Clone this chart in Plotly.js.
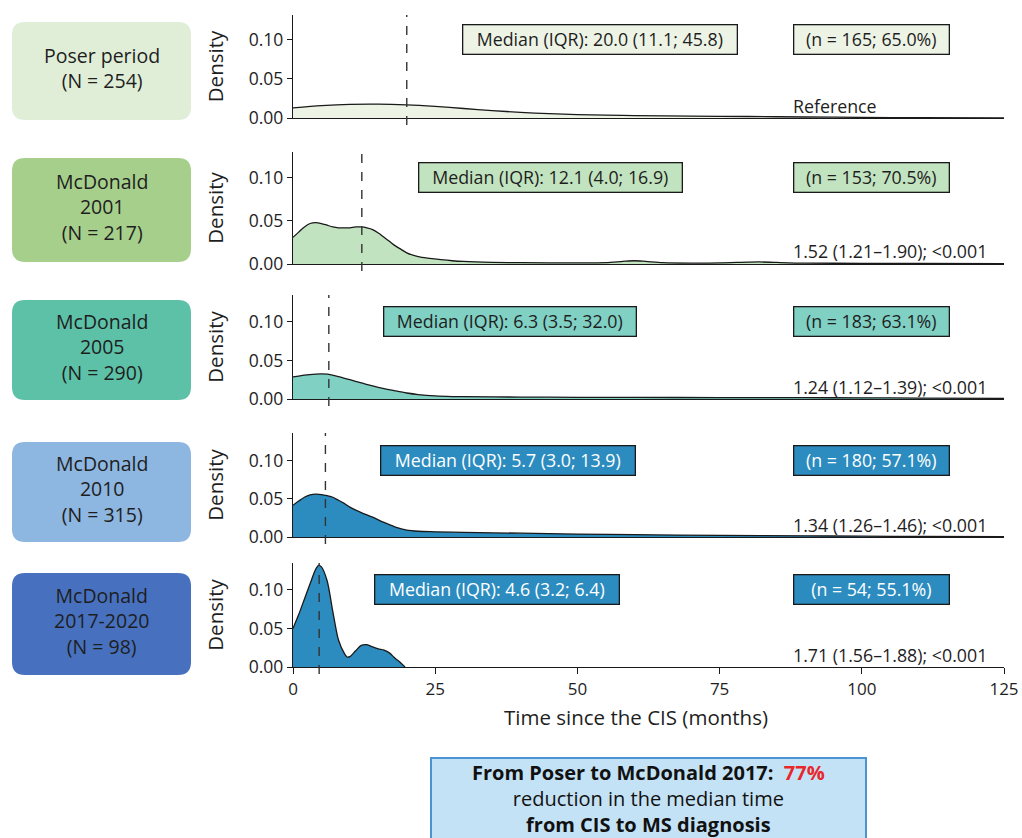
<!DOCTYPE html>
<html>
<head>
<meta charset="utf-8">
<script src="https://cdn.plot.ly/plotly-3.0.1.min.js"></script>
<style>html,body{margin:0;padding:0;background:#fff;}#chart{width:1022px;height:838px;}</style>
</head>
<body>
<div id="chart"></div>
<script>
// ---------- data ----------
const groupLines = [["Poser period"], ["McDonald", "2001"], ["McDonald", "2005"], ["McDonald", "2010"], ["McDonald", "2017-2020"]];
const groupN = [254, 217, 290, 315, 98];
const medians = [20.0, 12.1, 6.3, 5.7, 4.6];
const iqrLow = ["11.1", "4.0", "3.5", "3.0", "3.2"];
const iqrHigh = ["45.8", "16.9", "32.0", "13.9", "6.4"];
const nDiag = [165, 153, 183, 180, 54];
const pctDiag = ["65.0", "70.5", "63.1", "57.1", "55.1"];
const hrText = ["Reference", "1.52 (1.21–1.90); <0.001", "1.24 (1.12–1.39); <0.001", "1.34 (1.26–1.46); <0.001", "1.71 (1.56–1.88); <0.001"];
const xTicks = [0, 25, 50, 75, 100, 125];
const yTicks = [0, 0.05, 0.10];
const yTickText = ["0.00", "0.05", "0.10"];
const xTitle = "Time since the CIS (months)";
const summaryLines = ["<b>From Poser to McDonald 2017:  <span style='color:#e8272b'>77%</span></b>", "reduction in the median time", "<b>from CIS to MS diagnosis</b>"];

const poserX = [0,5,10,15,20,25,30,35,40,45,50,55,60,70,80,90,100,110,125];
const poserY = [0.013,0.0158,0.0175,0.0178,0.0168,0.0148,0.0122,0.0095,0.0072,0.0055,0.0043,0.0036,0.0031,0.0025,0.0019,0.0013,0.0008,0.0004,0.0002];

const mc2001X = [0,1,2,3,4,5,6,7,8,9,10,11,12,13,14,15,16,17,18,19,20,22,24,26,28,30,35,40,50,55,58,60,62,65,70,75,80,82,85,90,100,110,125];
const mc2001Y = [0.031,0.037,0.043,0.047,0.048,0.047,0.045,0.043,0.042,0.042,0.042,0.043,0.043,0.042,0.040,0.036,0.031,0.026,0.021,0.017,0.013,0.0085,0.0065,0.005,0.0038,0.003,0.002,0.0015,0.0012,0.0015,0.003,0.0038,0.003,0.0015,0.001,0.0012,0.0022,0.0024,0.0018,0.001,0.0008,0.0006,0.0004];

const mc2005X = [0,2,4,5,6,8,10,12,14,16,18,20,22,25,28,30,40,50,60,75,90,100,110,125];
const mc2005Y = [0.0286,0.031,0.0323,0.0325,0.0322,0.029,0.025,0.021,0.017,0.0135,0.0105,0.0078,0.0058,0.004,0.0032,0.003,0.0025,0.0022,0.002,0.0019,0.0017,0.0015,0.0012,0.0008];

const mc2010X = [0,1,2,3,4,5,6,7,8,9,10,12,14,16,18,20,22,25,30,40,50,60,75,90,100,110,125];
const mc2010Y = [0.0415,0.047,0.052,0.055,0.056,0.0555,0.054,0.052,0.048,0.044,0.039,0.032,0.026,0.019,0.013,0.009,0.0075,0.0068,0.006,0.005,0.0038,0.003,0.0022,0.0015,0.0011,0.0008,0.0005];

const mc2017X = [0,1,2,3,4,4.5,5,6,7,8,9,9.5,10,11,12,13,14,15,16,17,17.7,18,19,19.7];
const mc2017Y = [0.05,0.068,0.088,0.108,0.127,0.132,0.130,0.112,0.072,0.035,0.018,0.013,0.0135,0.021,0.028,0.029,0.026,0.0235,0.022,0.018,0.013,0.011,0.005,0];

const densX = [poserX, mc2001X, mc2005X, mc2010X, mc2017X];
const densY = [poserY, mc2001Y, mc2005Y, mc2010Y, mc2017Y];

// ---------- styles / geometry ----------
const fillCols = ["#edf4e6", "#c2e3bf", "#80d0c4", "#2c8cc0", "#2c8cc0"];
const boxCols = ["#e0eed8", "#a7cf8c", "#5dc1a7", "#8db6e0", "#4771be"];
const labelTextCols = ["#1e1e1e", "#1e1e1e", "#1e1e1e", "#fff", "#fff"];
const W = 1022, H = 838;
const M = {l: 293, r: 18, t: 15, b: 171};
const PW = W - M.l - M.r, PH = H - M.t - M.b;
const px2x = p => (p - M.l) / PW;
const py2y = p => (H - M.b - p) / PH;
const panelTop = [15, 152, 295, 433, 563];
const panelBot = [118, 264, 399, 537, 667];
const yMax = [0.132, 0.130, 0.135, 0.136, 0.135];
const medBoxCx = [600, 550, 510, 508, 497];
const medBoxW = [276, 265, 254, 256, 246];
const leftBox = [[12,22,191,120],[12,158,191,262],[12,300,191,400],[12,442,191,542],[12,573,191,675]];

const xScale = PW / 125;
const px2data = p => (p - M.l) / xScale;
const FONT = "Open Sans, Noto Sans, sans-serif";

const traces = [];
const layout = {
  width: W, height: H,
  margin: M,
  paper_bgcolor: "#fff", plot_bgcolor: "rgba(0,0,0,0)",
  showlegend: false,
  font: {family: FONT, color: "#1e1e1e", size: 17},
  shapes: [], annotations: []
};

function roundRect(x0, y0, x1, y1, r) {
  const X = p => px2x(p).toFixed(5), Y = p => py2y(p).toFixed(5);
  return `M ${X(x0 + r)},${Y(y0)} L ${X(x1 - r)},${Y(y0)} Q ${X(x1)},${Y(y0)} ${X(x1)},${Y(y0 + r)} ` +
         `L ${X(x1)},${Y(y1 - r)} Q ${X(x1)},${Y(y1)} ${X(x1 - r)},${Y(y1)} L ${X(x0 + r)},${Y(y1)} ` +
         `Q ${X(x0)},${Y(y1)} ${X(x0)},${Y(y1 - r)} L ${X(x0)},${Y(y0 + r)} Q ${X(x0)},${Y(y0)} ${X(x0 + r)},${Y(y0)} Z`;
}

for (let i = 0; i < 5; i++) {
  const k = i === 0 ? "" : String(i + 1);
  const xa = "x" + k, ya = "y" + k;
  traces.push({
    type: "scatter", mode: "lines", x: densX[i], y: densY[i],
    xaxis: xa, yaxis: ya, fill: "tozeroy", fillcolor: fillCols[i],
    line: {color: "#1a1a1a", width: 1.3, shape: "spline", smoothing: 0.8},
    hoverinfo: "skip"
  });
  const last = i === 4;
  layout["xaxis" + k] = {
    domain: [0, 1], range: [0, 125], anchor: ya,
    showline: true, linecolor: "#1a1a1a", linewidth: 1.2,
    showgrid: false, zeroline: false,
    ticks: last ? "outside" : "", ticklen: 6, tickcolor: "#1a1a1a",
    showticklabels: last, tickvals: xTicks, tickfont: {size: 17, color: "#1e1e1e"}
  };
  if (i > 0) layout["xaxis" + k].matches = "x";
  layout["yaxis" + k] = {
    domain: [py2y(panelBot[i]), py2y(panelTop[i])], range: [0, yMax[i]], anchor: xa,
    showline: true, linecolor: "#1a1a1a", linewidth: 1.2,
    showgrid: false, zeroline: false,
    ticks: "outside", ticklen: 5, tickcolor: "#1a1a1a",
    tickvals: yTicks, ticktext: yTickText, tickfont: {size: 17.5, color: "#1e1e1e"},
    title: {text: "Density", font: {size: 20.5, color: "#1e1e1e"}, standoff: 19}
  };
  // median dashed line
  layout.shapes.push({
    type: "line", xref: xa, yref: "paper",
    x0: medians[i], x1: medians[i],
    y0: py2y(panelBot[i] + 7), y1: py2y(panelTop[i]),
    line: {color: "#333", width: 1.4, dash: "dash"}, layer: "above"
  });
  // left rounded box
  const b = leftBox[i];
  layout.shapes.push({
    type: "path", xref: "paper", yref: "paper",
    path: roundRect(b[0], b[1], b[2], b[3], 13),
    fillcolor: boxCols[i], line: {width: 0}, layer: "below"
  });
  const lines = groupLines[i].concat(["(N = " + groupN[i] + ")"]);
  layout.annotations.push({
    xref: "paper", yref: "paper", x: px2x((b[0] + b[2]) / 2),
    y: py2y((b[1] + b[3]) / 2 - 3),
    text: lines.join("<br>"), showarrow: false, font: {size: 19.5, color: "#1e1e1e"},
    xanchor: "center", yanchor: "middle", align: "center", borderpad: 0
  });
  // median box
  layout.annotations.push({
    xref: xa, yref: ya, x: px2data(medBoxCx[i]), y: 0.1,
    text: "Median (IQR): " + medians[i].toFixed(1) + " (" + iqrLow[i] + "; " + iqrHigh[i] + ")",
    showarrow: false, xanchor: "center", yanchor: "middle",
    font: {size: 17.8, color: labelTextCols[i]},
    bgcolor: fillCols[i], bordercolor: "#1a1a1a", borderwidth: 1.3, borderpad: 2,
    width: medBoxW[i] - 7, align: "center"
  });
  // n box
  layout.annotations.push({
    xref: xa, yref: ya, x: px2data(793), y: 0.1,
    text: "(n = " + nDiag[i] + "; " + pctDiag[i] + "%)",
    showarrow: false, xanchor: "left", yanchor: "middle",
    font: {size: 17.8, color: labelTextCols[i]},
    bgcolor: fillCols[i], bordercolor: "#1a1a1a", borderwidth: 1.3, borderpad: 2,
    width: 157 - 7, align: "center"
  });
  // HR text
  layout.annotations.push({
    xref: xa, yref: ya, x: px2data(791), y: 0.0155,
    text: hrText[i], showarrow: false, xanchor: "left", yanchor: "middle",
    font: {size: 17.8, color: "#1e1e1e"}
  });
}

// x axis title (placed slightly left of plot centre as in the reference)
layout.annotations.push({
  xref: "paper", yref: "paper", x: px2x(636), y: py2y(717),
  text: xTitle, showarrow: false, xanchor: "center", yanchor: "middle",
  font: {size: 20.5, color: "#1e1e1e"}
});

// bottom summary box
layout.shapes.push({
  type: "rect", xref: "paper", yref: "paper",
  x0: px2x(431), x1: px2x(866), y0: py2y(850), y1: py2y(758),
  fillcolor: "#c4e2f6", line: {color: "#4a94d4", width: 2}, layer: "below"
});
layout.annotations.push({
  xref: "paper", yref: "paper", x: px2x(648), y: py2y(798),
  text: summaryLines.join("<br>"), showarrow: false, xanchor: "center", yanchor: "middle",
  align: "center", font: {size: 20, color: "#111"}, borderpad: 0
});

Plotly.newPlot("chart", traces, layout, {staticPlot: true, displayModeBar: false});
</script>
</body>
</html>
